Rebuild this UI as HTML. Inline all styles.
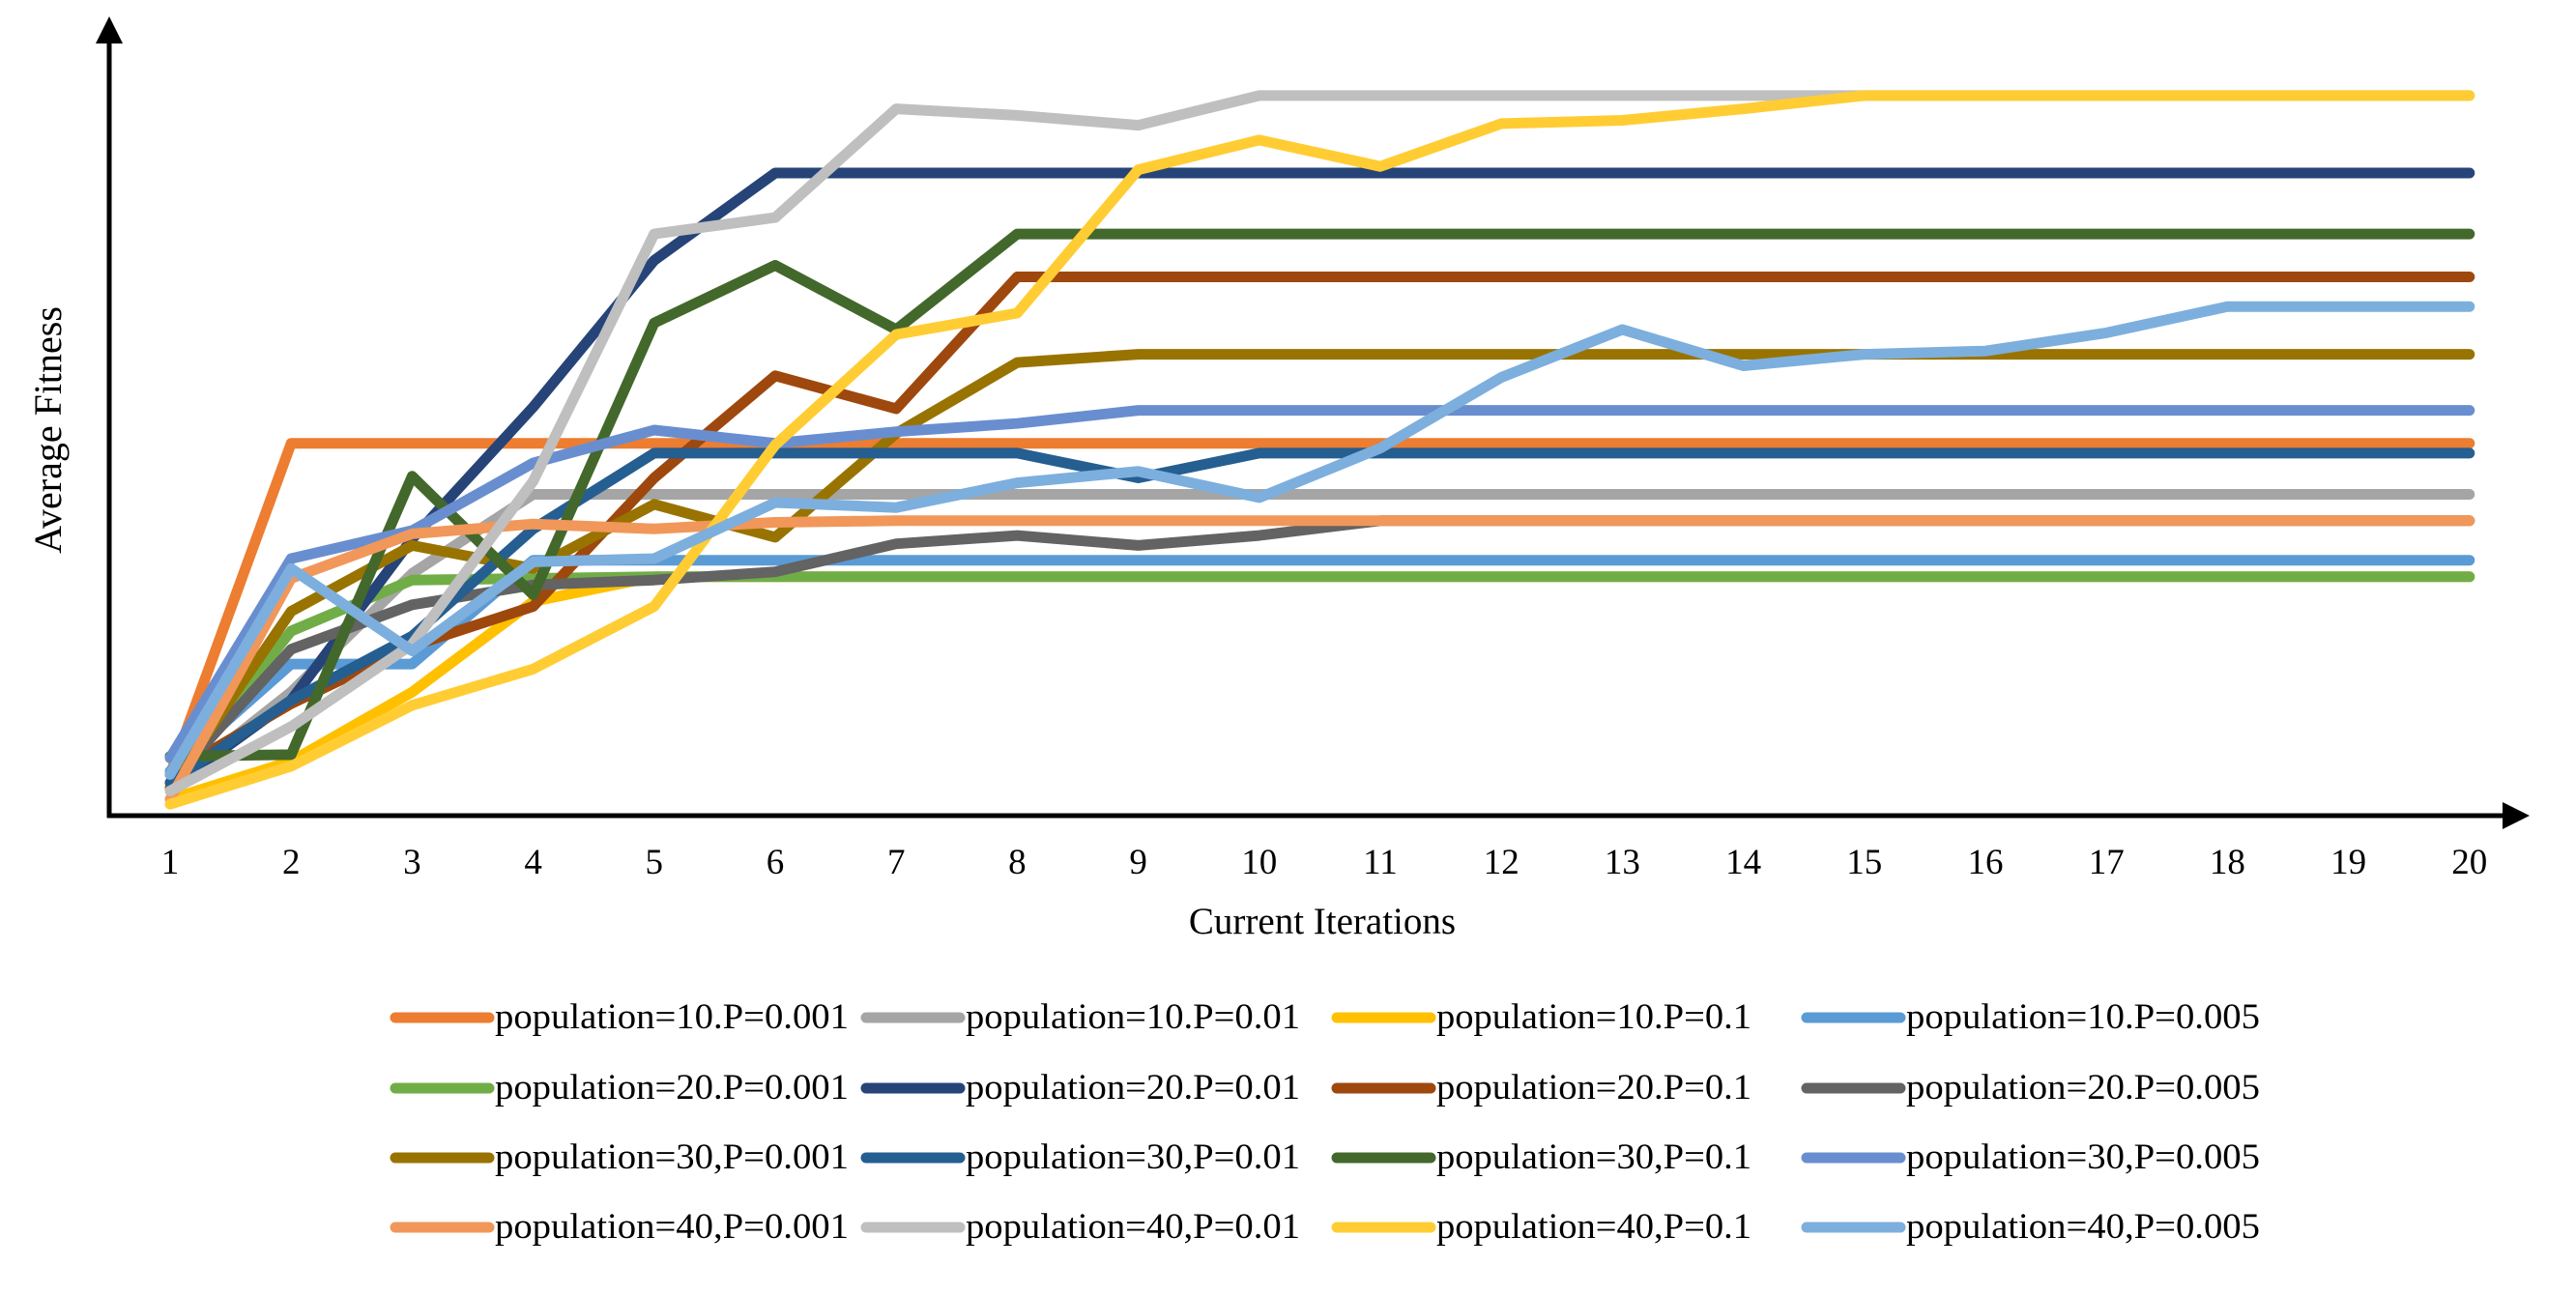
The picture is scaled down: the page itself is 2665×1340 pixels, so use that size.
<!DOCTYPE html>
<html><head><meta charset="utf-8"><style>
html,body{margin:0;padding:0;background:#fff;}
svg{display:block;font-family:"Liberation Serif",serif;}
</style></head><body>
<svg id="chart" width="2665" height="1340" viewBox="0 0 2665 1340" xmlns="http://www.w3.org/2000/svg">
<g id="series"></g>
<g>
<line x1="113" y1="40" x2="113" y2="846" stroke="#000" stroke-width="5"/>
<polygon points="113,17 99,45 127,45" fill="#000"/>
<line x1="111" y1="844" x2="2595" y2="844" stroke="#000" stroke-width="5"/>
<polygon points="2617,844 2589,830 2589,858" fill="#000"/>
</g>
<g id="ticks"></g>
<text x="1368" y="966" font-size="39" text-anchor="middle">Current Iterations</text>
<text x="0" y="0" font-size="40" text-anchor="middle" transform="translate(63,445) rotate(-90)">Average Fitness</text>
<g id="legend"></g>
</svg>
<script>
const iterations = [1,2,3,4,5,6,7,8,9,10,11,12,13,14,15,16,17,18,19,20];
const seriesNames = ["population=10.P=0.001","population=10.P=0.01","population=10.P=0.1","population=10.P=0.005",
"population=20.P=0.001","population=20.P=0.01","population=20.P=0.1","population=20.P=0.005",
"population=30,P=0.001","population=30,P=0.01","population=30,P=0.1","population=30,P=0.005",
"population=40,P=0.001","population=40,P=0.01","population=40,P=0.1","population=40,P=0.005"];
const seriesColors = ["#ED7D31","#A5A5A5","#FFC000","#5B9BD5","#70AD47","#264478","#9E480E","#636363",
"#997300","#255E91","#43682B","#698ED0","#F1975A","#BFBFBF","#FFCD33","#7CAFDD"];
const p10_001 = [25,226,226,226,226,226,226,226,226,226,226,226,226,226,226,226,226,226,226,226];
const p10_01  = [17,75,147,195,195,195,195,195,195,195,195,195,195,195,195,195,195,195,195,195];
const p10_1   = [10,33,75,130,145,145,145,145,145,145,145,145,145,145,145,145,145,145,145,145];
const p10_005 = [27,92,92,155,155,155,155,155,155,155,155,155,155,155,155,155,155,155,155,155];
const p20_001 = [20,112,143,144,145,145,145,145,145,145,145,145,145,145,145,145,145,145,145,145];
const p20_01  = [17,70,168,248,337,390,390,390,390,390,390,390,390,390,390,390,390,390,390,390];
const p20_1   = [25,68,103,127,205,267,247,327,327,327,327,327,327,327,327,327,327,327,327,327];
const p20_005 = [20,101,128,140,143,148,165,170,164,170,179,179,179,179,179,179,179,179,179,179];
const p30_001 = [17,124,164,150,189,169,232,275,280,280,280,280,280,280,280,280,280,280,280,280];
const p30_01  = [20,70,109,174,220,220,220,220,205,220,220,220,220,220,220,220,220,220,220,220];
const p30_1   = [36,37,206,134,299,334,295,353,353,353,353,353,353,353,353,353,353,353,353,353];
const p30_005 = [35,156,173,214,234,226,233,238,246,246,246,246,246,246,246,246,246,246,246,246];
const p40_001 = [10,144,171,177,174,178,179,179,179,179,179,179,179,179,179,179,179,179,179,179];
const p40_01  = [15,54,104,203,353,363,429,425,419,437,437,437,437,437,437,437,437,437,437,437];
const p40_1   = [7,30,67,89,127,225,292,305,392,410,394,420,422,429,437,437,437,437,437,437];
const p40_005 = [25,150,100,154,156,190,187,202,209,193,223,266,295,273,280,282,293,309,309,309];
const seriesValues = [p10_001,p10_01,p10_1,p10_005,p20_001,p20_01,p20_1,p20_005,p30_001,p30_01,p30_1,p30_005,p40_001,p40_01,p40_1,p40_005];

const NS = "http://www.w3.org/2000/svg";
function xScale(i){ return 176 + (i-1)*125.2; }
function yScale(v){ return 844 - v*1.705; }

const sg = document.getElementById("series");
seriesValues.forEach(function(vals, s){
  const p = document.createElementNS(NS,"polyline");
  p.setAttribute("points", vals.map(function(v,k){ return xScale(iterations[k]).toFixed(1)+","+yScale(v).toFixed(1); }).join(" "));
  p.setAttribute("fill","none");
  p.setAttribute("stroke", seriesColors[s]);
  p.setAttribute("stroke-width","11");
  p.setAttribute("stroke-linejoin","round");
  p.setAttribute("stroke-linecap","round");
  
  
  sg.appendChild(p);
});

const tg = document.getElementById("ticks");
iterations.forEach(function(it){
  const t = document.createElementNS(NS,"text");
  t.setAttribute("x", xScale(it));
  t.setAttribute("y", 904);
  t.setAttribute("font-size","37");
  t.setAttribute("text-anchor","middle");
  t.textContent = it;
  
  
  tg.appendChild(t);
});

const lg = document.getElementById("legend");
const colX = [406, 893, 1380, 1866];
const rowY = [1053, 1126, 1198, 1270];
seriesNames.forEach(function(name, s){
  const c = s % 4, r = Math.floor(s/4);
  const g = document.createElementNS(NS,"g");
  
  
  const l = document.createElementNS(NS,"line");
  l.setAttribute("x1", colX[c]+3); l.setAttribute("x2", colX[c]+100);
  l.setAttribute("y1", rowY[r]); l.setAttribute("y2", rowY[r]);
  l.setAttribute("stroke", seriesColors[s]); l.setAttribute("stroke-width","11");
  l.setAttribute("stroke-linecap","round");
  
  
  g.appendChild(l);
  const t = document.createElementNS(NS,"text");
  t.setAttribute("x", colX[c]+106);
  t.setAttribute("y", rowY[r]+11);
  t.setAttribute("font-size","37");
  t.setAttribute("textLength", name.indexOf("0.001")>0 ? 366 : (name.indexOf("0.005")>0 ? 366 : (name.indexOf("0.01")>0 ? 346 : 326)));
  t.setAttribute("lengthAdjust","spacingAndGlyphs");
  t.textContent = name;
  
  
  g.appendChild(t);
  lg.appendChild(g);
});
</script>
</body></html>
